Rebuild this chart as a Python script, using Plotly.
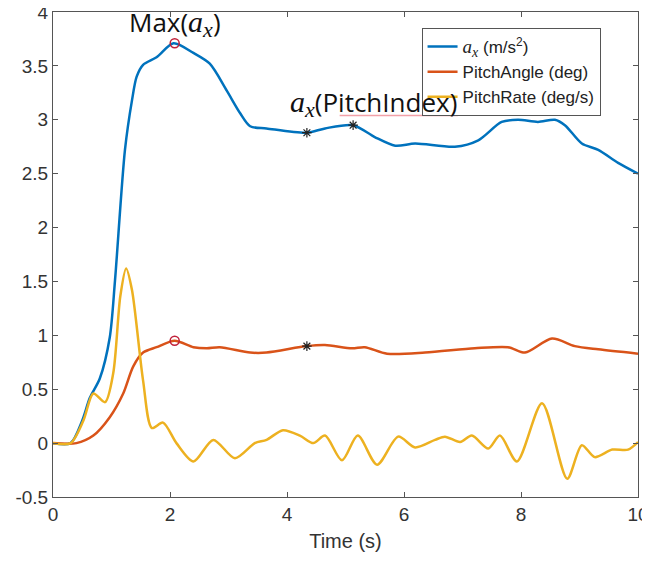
import plotly.graph_objects as go

# ---- data ----
ax_t = [0, 0.3, 0.5, 0.63, 0.8, 0.97, 1.06, 1.23, 1.35, 1.43, 1.54, 1.77, 2.06, 2.4, 2.68, 2.97, 3.2, 3.37,
        3.65, 4.34, 4.65, 5.13, 5.5, 5.85, 6.19, 6.87, 7.27, 7.67, 7.95, 8.29, 8.58, 8.75, 9.04, 9.32, 9.66, 10]
ax_v = [0, 0.0, 0.21, 0.42, 0.6, 0.98, 1.51, 2.72, 3.18, 3.40, 3.51, 3.58, 3.71, 3.62, 3.52, 3.27, 3.06, 2.94,
        2.92, 2.88, 2.92, 2.95, 2.84, 2.76, 2.78, 2.75, 2.81, 2.98, 3.0, 2.98, 3.0, 2.95, 2.78, 2.72, 2.60, 2.5]

pa_t = [0, 0.4, 0.69, 0.97, 1.2, 1.37, 1.54, 1.77, 2.08, 2.4, 2.63, 2.85, 3.37, 3.65, 4.34, 4.65, 5.11, 5.33,
        5.71, 6.36, 7.21, 7.78, 8.07, 8.53, 8.92, 9.32, 10]
pa_v = [0, 0.0, 0.07, 0.24, 0.46, 0.71, 0.84, 0.89, 0.95, 0.89, 0.88, 0.89, 0.84, 0.84, 0.90, 0.91, 0.88, 0.89,
        0.83, 0.84, 0.88, 0.89, 0.84, 0.97, 0.90, 0.87, 0.83]

pr_t = [0, 0.3, 0.52, 0.69, 0.89, 1.03, 1.15, 1.25, 1.35, 1.54, 1.69, 1.88, 2.11, 2.4, 2.74, 3.11, 3.45, 3.65,
        3.93, 4.22, 4.45, 4.65, 4.94, 5.21, 5.54, 5.9, 6.19, 6.53, 6.7, 6.96, 7.16, 7.44, 7.64, 7.93, 8.36,
        8.79, 9.04, 9.26, 9.56, 9.83, 10]
pr_v = [0, 0.0, 0.21, 0.46, 0.38, 0.65, 1.36, 1.62, 1.42, 0.58, 0.14, 0.19, 0.0, -0.17, 0.03, -0.14, 0.0, 0.03,
        0.12, 0.07, 0.0, 0.07, -0.16, 0.07, -0.2, 0.06, -0.04, 0.03, 0.06, 0.01, 0.07, -0.05, 0.07, -0.17, 0.37,
        -0.33, -0.02, -0.13, -0.06, -0.06, 0.01]

max_t = [2.08, 2.08]
max_v = [3.71, 0.95]
pitch_t = [4.34, 5.13, 4.34]
pitch_v = [2.88, 2.95, 0.90]

x_ticks = [0, 2, 4, 6, 8, 10]
y_ticks = [-0.5, 0, 0.5, 1, 1.5, 2, 2.5, 3, 3.5, 4]
y_tick_text = ["-0.5", "0", "0.5", "1", "1.5", "2", "2.5", "3", "3.5", "4"]


def ax_label(size):
    a = f"<i><span style=\"font-family:'Liberation Serif';font-size:{size}px\">a</span></i>"
    x = f"<sub><i><span style=\"font-family:'Liberation Serif';font-size:{round(size * 0.72)}px\">x</span></i></sub>"
    return a + x


names = [ax_label(19) + " (m/s<sup>2</sup>)", "PitchAngle (deg)", "PitchRate (deg/s)"]
colors = ["#0072BD", "#D95319", "#EDB120"]

fig = go.Figure()
for t, v, n, c in [(ax_t, ax_v, names[0], colors[0]), (pa_t, pa_v, names[1], colors[1]),
                   (pr_t, pr_v, names[2], colors[2])]:
    fig.add_trace(go.Scatter(x=t, y=v, name=n, mode="lines",
                             line=dict(color=c, width=2.5, shape="spline", smoothing=0.8)))

fig.add_trace(go.Scatter(x=max_t, y=max_v, mode="markers", showlegend=False,
                         marker=dict(symbol="circle-open", size=9, color="#C0203A", line=dict(width=1.5))))
fig.add_trace(go.Scatter(x=pitch_t, y=pitch_v, mode="markers", showlegend=False,
                         marker=dict(symbol="asterisk-open", size=8, color="#222222", line=dict(width=1.2))))

fig.add_annotation(x=max_t[0], y=max_v[0], yanchor="bottom", yshift=-1, showarrow=False,
                   text="Max(" + ax_label(30) + ")",
                   font=dict(family="Open Sans", size=26, color="#111111"))
fig.add_annotation(x=5.48, y=3.16, showarrow=False,
                   text=ax_label(30) + "(PitchIndex)",
                   font=dict(family="Open Sans", size=26, color="#111111"))
fig.add_shape(type="line", x0=4.9, x1=6.92, y0=3.04, y1=3.04, xref="x", yref="y",
              line=dict(color="#F2A0A8", width=1.5))

axis_common = dict(showline=True, linecolor="#555555", linewidth=1, mirror="ticks",
                   ticks="inside", ticklen=5, tickcolor="#555555", showgrid=False, zeroline=False,
                   automargin=False, ticklabeloverflow="allow",
                   tickfont=dict(family="Liberation Sans", size=19, color="#333333"))

fig.update_xaxes(range=[0, 10], tickvals=x_ticks,
                 title=dict(text="Time (s)", font=dict(family="Liberation Sans", size=20, color="#333333"),
                            standoff=10), **axis_common)
fig.update_yaxes(range=[-0.5, 4], tickvals=y_ticks, ticktext=y_tick_text, **axis_common)

# the page body adds an 8 px offset, so margins are shifted by 8 px
fig.update_layout(width=650, height=561, margin=dict(l=45, r=20, t=4, b=72),
                  plot_bgcolor="white", paper_bgcolor="white",
                  legend=dict(x=0.63, y=0.967, xanchor="left", yanchor="top", bgcolor="white",
                              bordercolor="#555555", borderwidth=1, tracegroupgap=0,
                              font=dict(family="Liberation Sans", size=17, color="#222222")))

fig.write_html("out.html")
